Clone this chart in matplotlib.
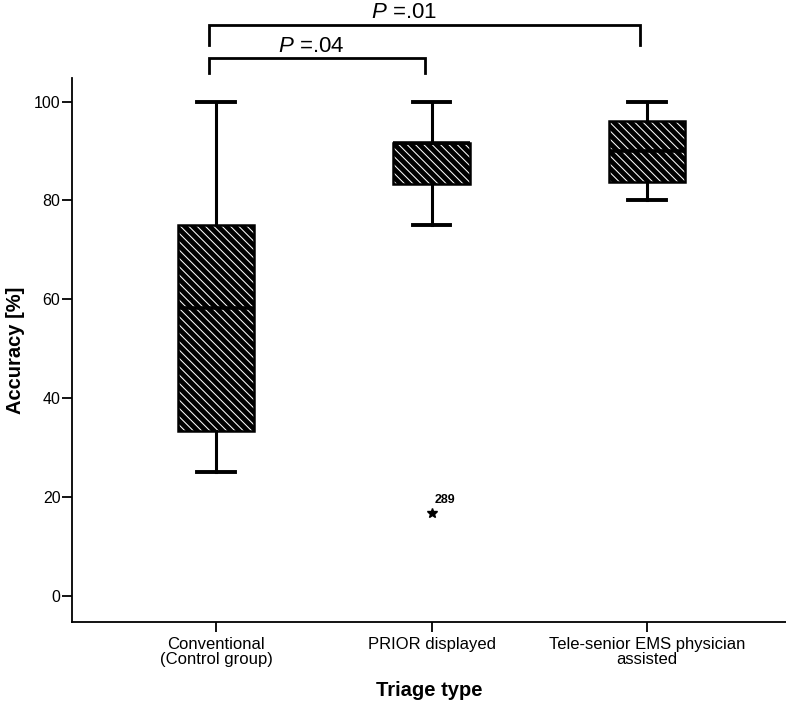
import matplotlib
matplotlib.use('Agg')
import matplotlib.pyplot as plt

# values (accuracy in %)
groups = ['Conventional\n(Control group)', 'PRIOR displayed', 'Tele-senior EMS physician\nassisted']
whis_low = [25.0, 75.0, 80.0]
q1 = [33.3, 83.3, 83.8]
median = [58.3, 91.7, 90.0]
q3 = [75.0, 91.7, 96.0]
whis_high = [100.0, 100.0, 100.0]
outliers = [[], [16.7], []]
outlier_ids = [[], ['289'], []]

# significance brackets: (from group, to group, label)
brackets = [(1, 3, '$P$ =.01'), (1, 2, '$P$ =.04')]

plt.rcParams['font.family'] = ['Liberation Sans', 'DejaVu Sans']
plt.rcParams['mathtext.fontset'] = 'custom'
plt.rcParams['mathtext.it'] = 'Liberation Sans:italic'
plt.rcParams['mathtext.rm'] = 'Liberation Sans'
plt.rcParams['hatch.linewidth'] = 3.5

fig = plt.figure(figsize=(7.86, 7.07), dpi=100)
ax = fig.add_axes([0.091, 0.1202, 0.909, 0.7694])

stats = []
for i in range(len(groups)):
    stats.append(dict(med=median[i], q1=q1[i], q3=q3[i],
                      whislo=whis_low[i], whishi=whis_high[i],
                      fliers=outliers[i]))

pos = [1, 2, 3]
bp = ax.bxp(stats, positions=pos, widths=0.357, patch_artist=True,
            showfliers=True,
            boxprops=dict(facecolor='white', edgecolor='black', linewidth=1.8, hatch='\\\\\\\\'),
            medianprops=dict(color='black', linewidth=2.6),
            whiskerprops=dict(color='black', linewidth=2.2),
            capprops=dict(color='black', linewidth=2.8),
            flierprops=dict(marker='*', markersize=7, markerfacecolor='black',
                            markeredgecolor='black'))
for cap in bp['caps']:
    x0, x1 = cap.get_xdata()
    c = (x0 + x1) / 2
    cap.set_xdata([c - 0.088, c + 0.088])

for i, ids in enumerate(outlier_ids):
    for v, lab in zip(outliers[i], ids):
        ax.annotate(lab, (pos[i], v), xytext=(2, 5), textcoords='offset points',
                    fontsize=9, fontweight='bold', ha='left', va='bottom')

# brackets
bracket_y = [115.5, 108.8]
legs = [4.0, 3.1]
text_x = [1.872, 1.44]
text_y = [116.9, 110.0]
for (a, b, lab), y, leg, tx, ty in zip(brackets, bracket_y, legs, text_x, text_y):
    xa, xb = a - 0.032, b - 0.032
    ax.plot([xa, xa, xb, xb], [y - leg, y, y, y - leg], color='black', lw=2.0,
            clip_on=False, solid_joinstyle='miter')
    ax.text(tx, ty, lab, ha='center', va='baseline', fontsize=16, clip_on=False)

ax.set_xlim(0.3295, 3.645)
ax.set_ylim(-5.32, 104.75)
ax.set_xticks(pos)
ax.set_xticklabels(groups, fontsize=12, linespacing=0.95)
ax.set_yticks([0, 20, 40, 60, 80, 100])
ax.tick_params(axis='y', labelsize=11.5, length=7, width=1.3, pad=1)
ax.tick_params(axis='x', length=7, width=1.3, pad=4)
ax.spines['top'].set_visible(False)
ax.spines['right'].set_visible(False)
ax.spines['left'].set_linewidth(1.3)
ax.spines['bottom'].set_linewidth(1.3)

ax.set_ylabel('Accuracy [%]', fontsize=14.5, fontweight='bold', labelpad=6)
ax.set_xlabel('Triage type', fontsize=14.5, fontweight='bold', labelpad=10)

fig.savefig('out.png', dpi=100)
